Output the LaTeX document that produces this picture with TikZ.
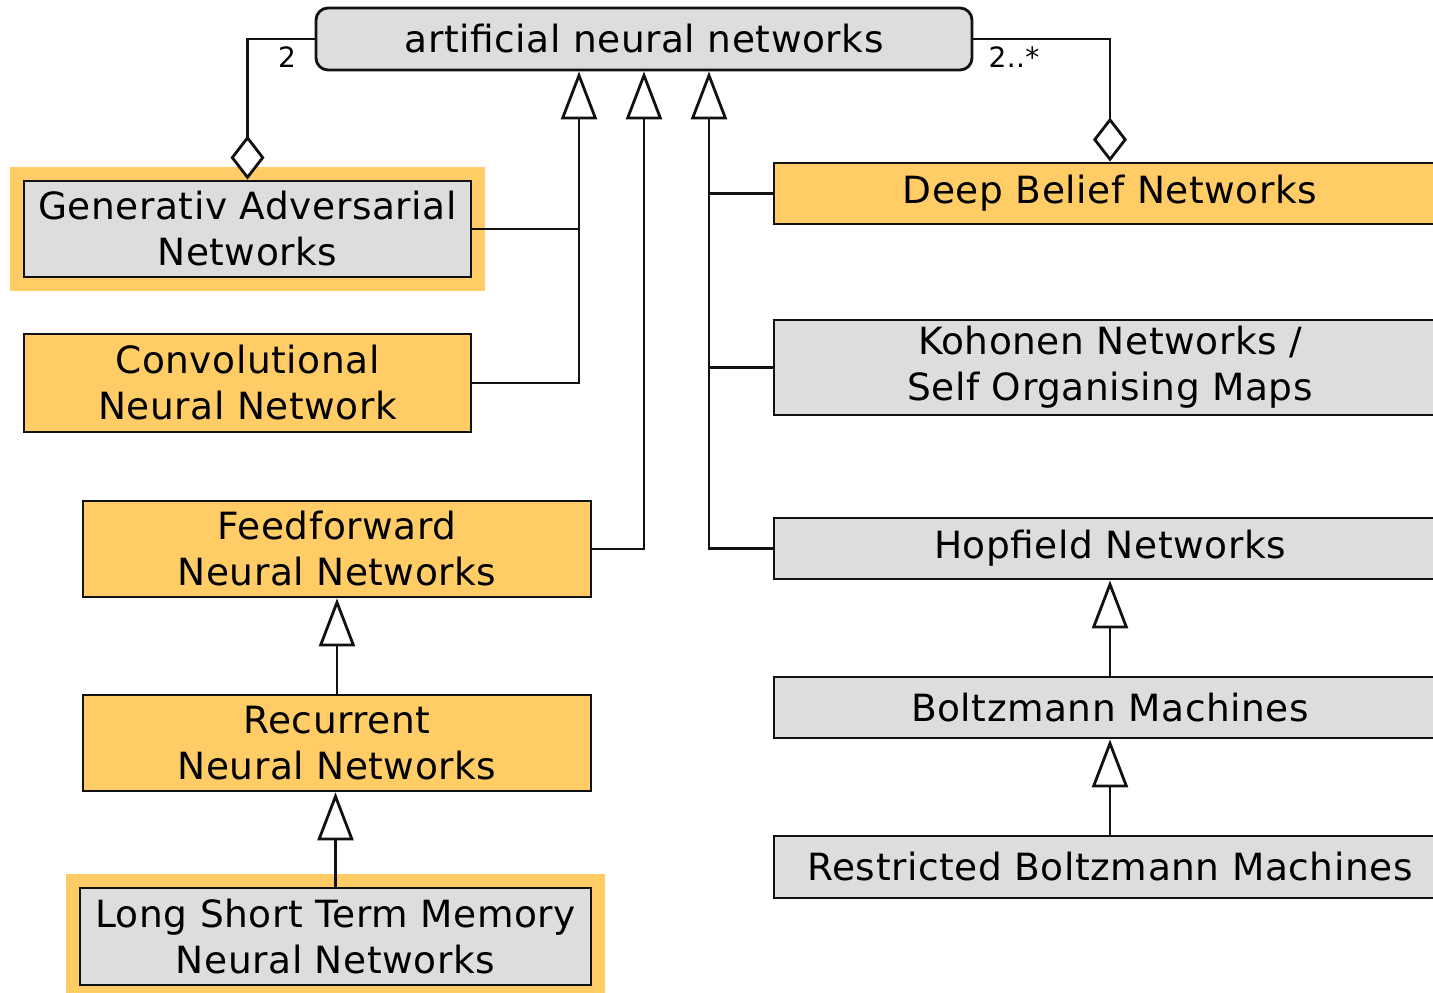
\documentclass[tikz,border=0pt]{standalone}
\usepackage{fontspec}
\setmainfont{DejaVu Sans}[LetterSpace=1.5]
\usetikzlibrary{arrows.meta,fit,backgrounds}
\definecolor{hlorange}{HTML}{FFCC66}
\definecolor{boxgray}{HTML}{DDDDDD}
\definecolor{edge}{HTML}{111111}
\tikzset{
  base/.style={draw=edge, line width=2.8pt, align=center, inner sep=0pt,
    font=\fontsize{37.5}{46}\selectfont, text=black},
  graybox/.style={base, fill=boxgray},
  orangebox/.style={base, fill=hlorange},
  hilite/.style={fill=hlorange, inner sep=13pt},
  inh/.style={draw=edge, line width=2.8pt, -{Triangle[open, length=48pt, width=36pt, fill=white]}},
  agg/.style={draw=edge, line width=2.8pt, {Diamond[open, length=44pt, width=34pt, fill=white]}-},
  plain/.style={draw=edge, line width=2.8pt},
  mult/.style={font=\fontsize{28}{30}\selectfont, inner sep=0pt}
}
\begin{document}
\begin{tikzpicture}[x=1pt, y=-1pt]
\useasboundingbox (0,0) rectangle (1433,993);
\clip (0,0) rectangle (1433,993);
% nodes
\node[graybox, rounded corners=12pt, minimum width=656pt, minimum height=62pt] (ann) at (644,39) {artificial neural networks};
\node[graybox, minimum width=447pt, minimum height=96pt] (gan) at (247.5,229) {Generativ Adversarial\\Networks};
\node[orangebox, minimum width=447pt, minimum height=98pt] (conv) at (247.5,383) {Convolutional\\Neural Network};
\node[orangebox, minimum width=508pt, minimum height=96pt] (ff) at (337,549) {Feedforward\\Neural Networks};
\node[orangebox, minimum width=508pt, minimum height=96pt] (rnn) at (337,743) {Recurrent\\Neural Networks};
\node[graybox, minimum width=511pt, minimum height=97pt] (lstm) at (335.5,936.5) {Long Short Term Memory\\Neural Networks};
\node[orangebox, minimum width=672pt, minimum height=61pt] (dbn) at (1110,193.5) {Deep Belief Networks};
\node[graybox, minimum width=672pt, minimum height=95pt] (koh) at (1110,367.5) {Kohonen Networks /\\Self Organising Maps};
\node[graybox, minimum width=672pt, minimum height=61pt] (hop) at (1110,548.5) {Hopfield Networks};
\node[graybox, minimum width=672pt, minimum height=61pt] (bm) at (1110,707.5) {Boltzmann Machines};
\node[graybox, minimum width=672pt, minimum height=62pt] (rbm) at (1110,867) {Restricted Boltzmann Machines};
% highlight frames
\begin{scope}[on background layer]
\node[hilite, fit=(gan)] (ganhl) {};
\node[hilite, fit=(lstm)] (lstmhl) {};
\end{scope}
% bus coordinates
\coordinate (xa) at (579,0);
\coordinate (xb) at (644,0);
\coordinate (xc) at (709,0);
% generalisations to ann
\draw[inh] (conv.east) -| (ann.south -| xa);
\draw[plain] (gan.east) -- (gan.east -| xa);
\draw[inh] (ff.east) -| (ann.south -| xb);
\draw[inh] (hop.west) -| (ann.south -| xc);
\draw[plain] (dbn.west) -- (dbn.west -| xc);
\draw[plain] (koh.west) -- (koh.west -| xc);
% chains
\draw[inh] (rnn.north) -- (ff.south);
\draw[inh] (lstm.north) -- (lstm.north |- rnn.south);
\draw[inh] (bm.north) -- (hop.south);
\draw[inh] (rbm.north) -- (bm.south);
% aggregations
\draw[agg] (gan.north) |- (ann.west);
\draw[agg] (dbn.north) |- (ann.east);
\node[mult] (m1) at (287,57) {2};
\node[mult] (m2) at (1014,57) {2..*};
\end{tikzpicture}
\end{document}
